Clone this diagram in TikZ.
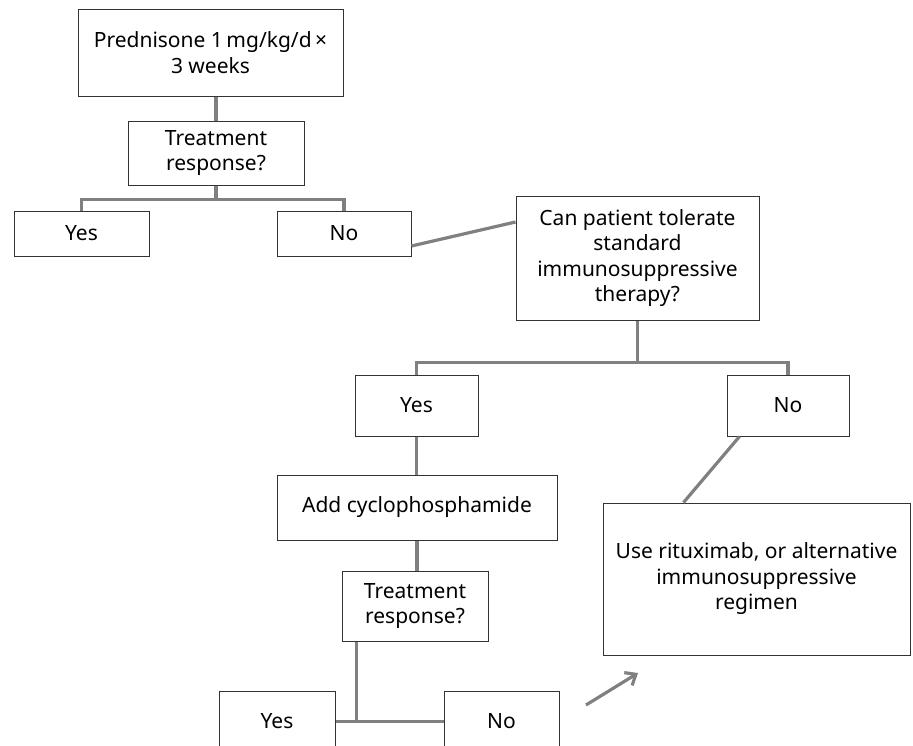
\documentclass[tikz,border=0pt]{standalone}
\usepackage{fontspec}
\setmainfont{Noto Sans}
\usetikzlibrary{arrows.meta}

\begin{document}
\begin{tikzpicture}
  [x=1pt,y=-1pt,
   every node/.style={draw=black!80,line width=1pt,fill=white,align=center,inner sep=0pt,
     font=\fontsize{21}{25.5}\selectfont},
   link/.style={draw=black!50,line width=3.2pt}]
  \useasboundingbox (0,0) rectangle (913,745);
  \node[minimum width=265,minimum height=87] (pred) at (210.5,52.5) {Prednisone 1\,mg/kg/d\,×\\3 weeks};
  \node[minimum width=176,minimum height=64] (trt1) at (216,153) {Treatment\\response?};
  \node[minimum width=135,minimum height=45] (yes1) at (81.5,233.5) {Yes};
  \node[minimum width=134,minimum height=45] (no1) at (344,233.5) {No};
  \node[minimum width=243,minimum height=124] (can) at (637.5,258) {Can patient tolerate\\standard\\immunosuppressive\\therapy?};
  \node[minimum width=123,minimum height=61] (yes2) at (416.5,405.5) {Yes};
  \node[minimum width=122,minimum height=61] (no2) at (788,405.5) {No};
  \node[minimum width=280,minimum height=65] (add) at (417,507.5) {Add cyclophosphamide};
  \node[minimum width=307,minimum height=152] (use) at (756.5,579) {Use rituximab, or alternative\\immunosuppressive\\regimen};
  \node[minimum width=146,minimum height=70] (trt2) at (415,606) {Treatment\\response?};
  \node[minimum width=116,minimum height=61] (yes3) at (277,721.5) {Yes};
  \node[minimum width=115,minimum height=61] (no3) at (501.5,721.5) {No};
  \coordinate (tail) at (586,705);
  \coordinate (tip) at (638,673);

  \draw[link] (trt1.north |- pred.south) -- (trt1.north);
  \foreach \from/\to in {yes2/add,add/trt2}
    \draw[link] (\from.south) -- (\from.south |- \to.north);
  \foreach \top/\kid in {trt1/yes1,trt1/no1}
    \draw[link] (\top.south) -- ++(0,14) -| (\kid.north);
  \foreach \top/\kid in {can/yes2,can/no2}
    \draw[link] (\top.south) -- ++(0,42) -| (\kid.north);
  \draw[link] ([yshift=-12.5pt]no1.east) -- ([yshift=36pt]can.west);
  \draw[link] ([xshift=13pt]no2.south west) -- ([xshift=81pt]use.north west);
  \draw[link] ([xshift=15pt]trt2.south west) -- ([xshift=15pt]trt2.south west |- yes3.east);
  \draw[link] (yes3.east) -- (no3.west);
  \draw[link,-{Straight Barb[length=9pt,width=15pt]}] (tail) -- (tip);
\end{tikzpicture}
\end{document}
